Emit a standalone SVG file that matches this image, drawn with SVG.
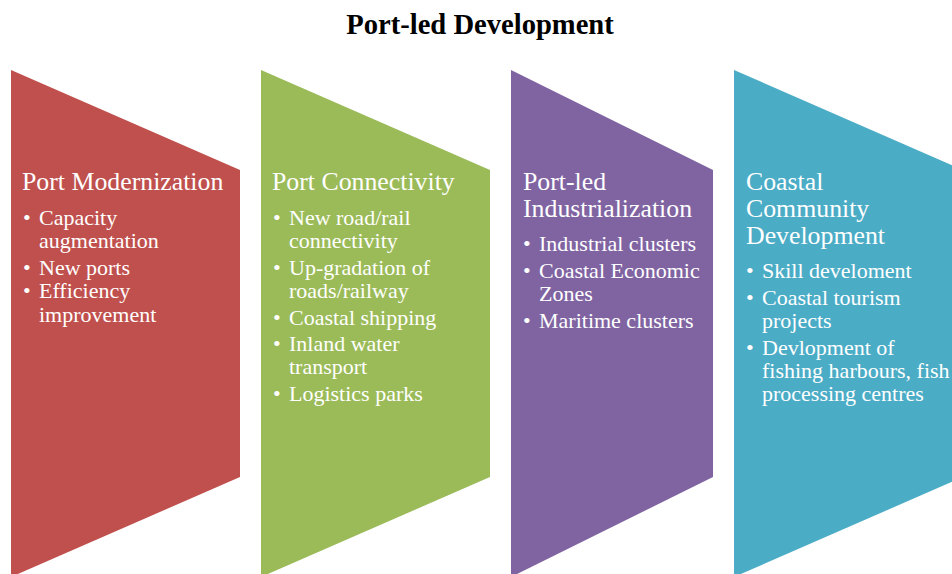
<svg xmlns="http://www.w3.org/2000/svg" width="952" height="574" viewBox="0 0 952 574">
<style>
text{font-family:"Liberation Serif","Times New Roman",serif;fill:#fff}
.title{font-size:28.6px;font-weight:bold;fill:#000}
.h{font-size:25.8px}
.b{font-size:22px}
</style>
<rect width="952" height="574" fill="#fff"/>
<text class="title" x="480" y="34" text-anchor="middle">Port-led Development</text>
<g id="node-port-modernization">
<polygon points="11,70 240,170 240,477 11,577" fill="#C0504D"/>
<text class="h" x="22" y="190">Port Modernization</text>
<text class="b" x="23" y="225">•</text><text class="b" x="39" y="225">Capacity</text>
<text class="b" x="39" y="248">augmentation</text>
<text class="b" x="23" y="275">•</text><text class="b" x="39" y="275">New ports</text>
<text class="b" x="23" y="298">•</text><text class="b" x="39" y="298">Efficiency</text>
<text class="b" x="39" y="322">improvement</text>
</g>
<g id="node-port-connectivity">
<polygon points="261,70 490,170 490,477 261,577" fill="#9BBB59"/>
<text class="h" x="272" y="190">Port Connectivity</text>
<text class="b" x="273" y="225">•</text><text class="b" x="289" y="225">New road/rail</text>
<text class="b" x="289" y="248">connectivity</text>
<text class="b" x="273" y="275">•</text><text class="b" x="289" y="275">Up-gradation of</text>
<text class="b" x="289" y="298">roads/railway</text>
<text class="b" x="273" y="325">•</text><text class="b" x="289" y="325">Coastal shipping</text>
<text class="b" x="273" y="351">•</text><text class="b" x="289" y="351">Inland water</text>
<text class="b" x="289" y="374">transport</text>
<text class="b" x="273" y="401">•</text><text class="b" x="289" y="401">Logistics parks</text>
</g>
<g id="node-port-led-industrialization">
<polygon points="511,70 713,170 713,477 511,577" fill="#8064A2"/>
<text class="h" x="523" y="190">Port-led</text>
<text class="h" x="523" y="217">Industrialization</text>
<text class="b" x="523" y="251">•</text><text class="b" x="539" y="251">Industrial clusters</text>
<text class="b" x="523" y="278">•</text><text class="b" x="539" y="278">Coastal Economic</text>
<text class="b" x="539" y="301">Zones</text>
<text class="b" x="523" y="328">•</text><text class="b" x="539" y="328">Maritime clusters</text>
</g>
<g id="node-coastal-community-development">
<polygon points="734,70 963,170 963,477 734,577" fill="#4BACC6"/>
<text class="h" x="746" y="190">Coastal</text>
<text class="h" x="746" y="217">Community</text>
<text class="h" x="746" y="244">Development</text>
<text class="b" x="746" y="278">•</text><text class="b" x="762" y="278">Skill develoment</text>
<text class="b" x="746" y="305">•</text><text class="b" x="762" y="305">Coastal tourism</text>
<text class="b" x="762" y="328">projects</text>
<text class="b" x="746" y="355">•</text><text class="b" x="762" y="355">Devlopment of</text>
<text class="b" x="762" y="378">fishing harbours, fish</text>
<text class="b" x="762" y="401">processing centres</text>
</g>
<g id="connectors"/>
</svg>
